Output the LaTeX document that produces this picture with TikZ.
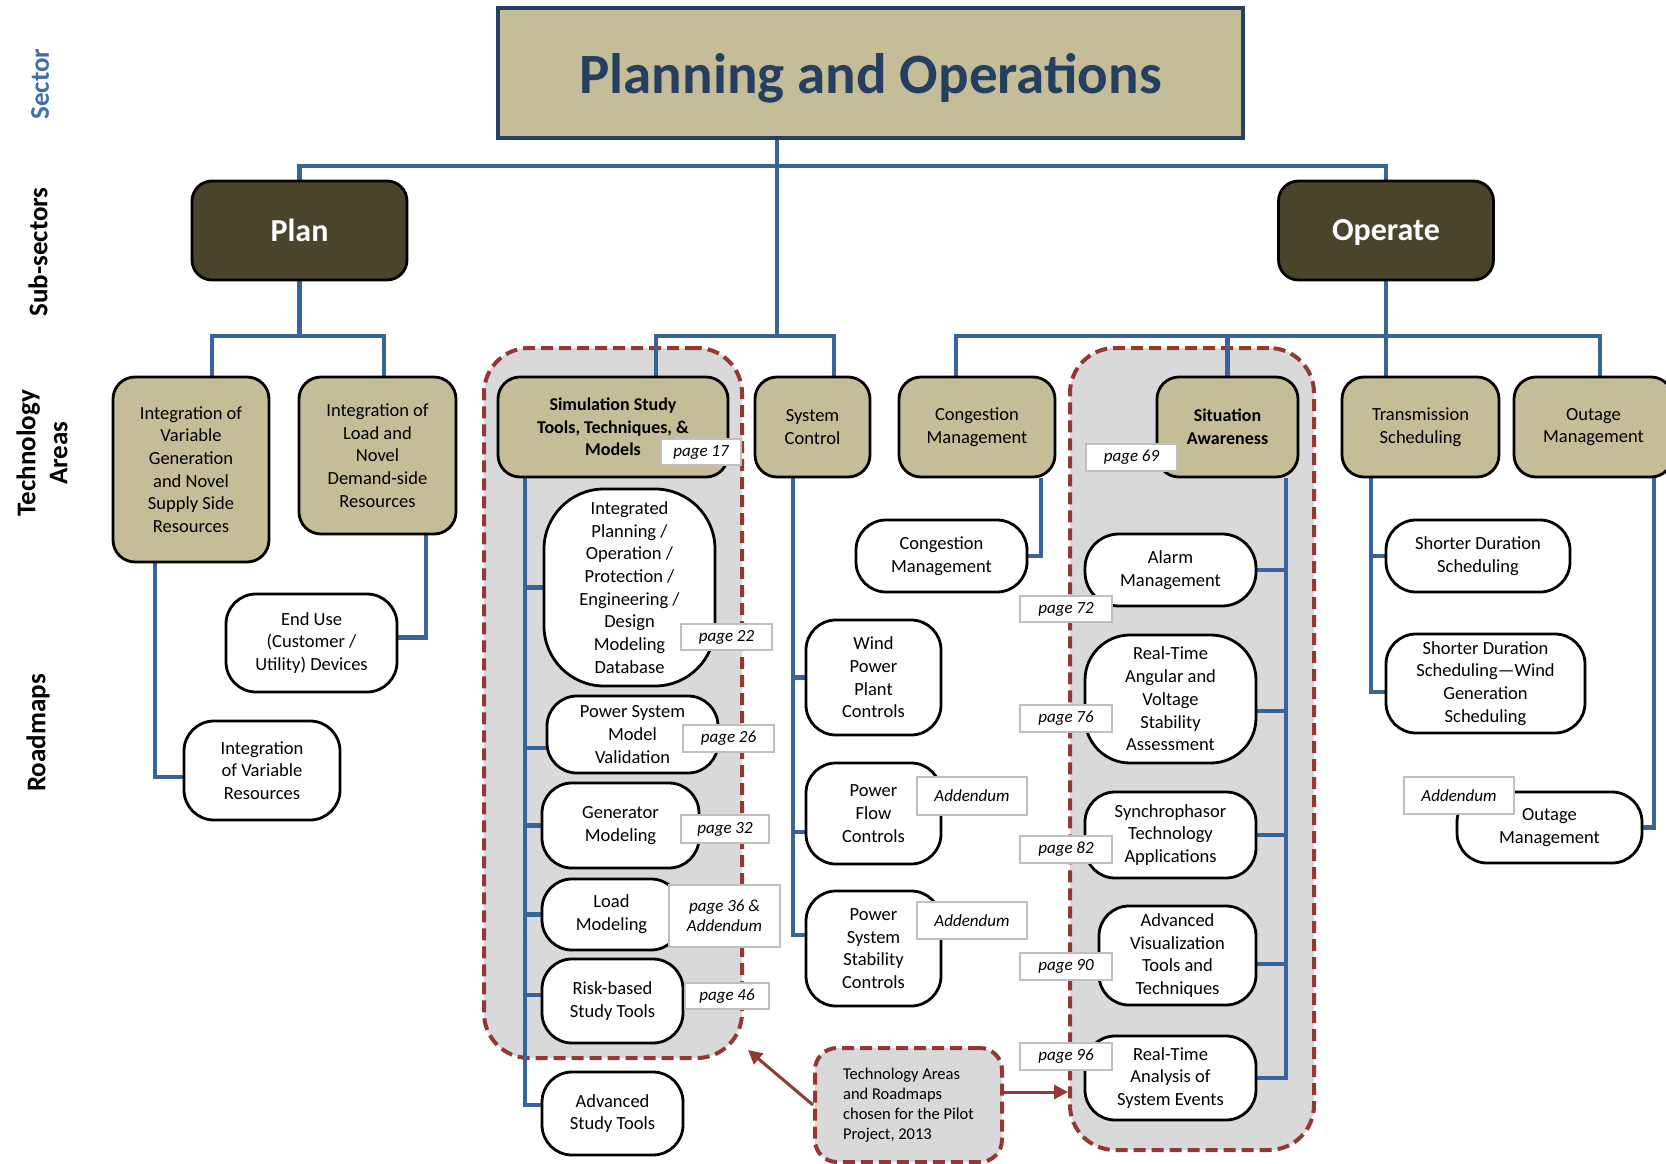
\documentclass[tikz,border=0pt]{standalone}
\usepackage{fontspec}
\setmainfont{Carlito}
\usetikzlibrary{arrows.meta}
\definecolor{tan}{HTML}{C4BD97}
\definecolor{olive}{HTML}{4A452A}
\definecolor{lineblue}{HTML}{386499}
\definecolor{navy}{HTML}{243F60}
\definecolor{sectorblue}{HTML}{3F6EAA}
\definecolor{zonered}{HTML}{953735}
\definecolor{zonegray}{HTML}{D9D9D9}
\definecolor{pgborder}{HTML}{BFBFBF}
\pgfdeclarelayer{zones}
\pgfdeclarelayer{lines}
\pgfsetlayers{zones,lines,main}
\tikzset{
  tabox/.style={draw=black, line width=2.8pt, fill=tan, rounded corners=22pt, align=center, inner sep=0pt, font=\fontsize{18.5}{22.7}\selectfont},
  rmbox/.style={draw=black, line width=2.8pt, fill=white, rounded corners=30pt, align=center, inner sep=0pt, font=\fontsize{18.5}{22.7}\selectfont},
  subbox/.style={draw=black, line width=2.8pt, fill=olive, rounded corners=20pt, inner sep=0pt, text depth=0pt, text=white, font=\bfseries\fontsize{32}{36}\selectfont},
  pglabel/.style={draw=pgborder, line width=1.5pt, fill=white, inner sep=0pt, align=center, font=\itshape\fontsize{17}{20.5}\selectfont},
  conn/.style={draw=lineblue, line width=4.8pt},
  zone/.style={draw=zonered, fill=zonegray, line width=4pt, dash pattern=on 12pt off 6pt, rounded corners=45pt},
  sidelabel/.style={rotate=90, align=center, font=\bfseries\fontsize{27}{32}\selectfont},
  arr/.style={draw=zonered, line width=3pt, -{Triangle[length=14pt,width=14pt]}},
}
\begin{document}
\begin{tikzpicture}[x=1pt,y=-1pt]
\useasboundingbox (0,0) rectangle (1666,1164);

% side labels
\node[sidelabel, text=sectorblue] (lblSector) at (40,84) {Sector};
\node[sidelabel] (lblSub) at (38,252) {Sub-sectors};
\node[sidelabel] (lblTech) at (42,453) {Technology\\Areas};
\node[sidelabel] (lblRoad) at (38,733) {Roadmaps};

% highlighted zones
\begin{pgfonlayer}{zones}
\node[zone, minimum width=258pt, minimum height=710pt] (zoneL) at (613,703) {};
\node[zone, minimum width=244pt, minimum height=802pt] (zoneR) at (1192,749) {};
\end{pgfonlayer}
\node[zone, rounded corners=22pt, minimum width=187pt, minimum height=114pt, align=left, inner sep=0pt, font=\fontsize{16.5}{20}\selectfont] (legend) at (908.5,1105) {Technology Areas\\and Roadmaps\\chosen for the Pilot\\Project, 2013};

% sector
\node[draw=navy, line width=4pt, fill=tan, minimum width=745pt, minimum height=129pt, inner sep=0pt, text depth=0pt, text=navy, font=\bfseries\fontsize{57}{64}\selectfont] (title) at (870.5,73) {Planning and Operations};

% sub-sectors
\node[subbox, minimum width=215pt, minimum height=99pt] (plan) at (299.5,230.5) {Plan};
\node[subbox, minimum width=215pt, minimum height=99pt] (operate) at (1386,230.5) {Operate};

% technology areas
\node[tabox, minimum width=156pt, minimum height=185pt] (T1) at (191,469.5) {Integration of\\Variable\\Generation\\and Novel\\Supply Side\\Resources};
\node[tabox, minimum width=157pt, minimum height=157pt] (T2) at (377.5,455.5) {Integration of\\Load and\\Novel\\Demand-side\\Resources};
\node[tabox, minimum width=230pt, minimum height=100pt, font=\bfseries\fontsize{18}{22.7}\selectfont] (T3) at (613,427) {Simulation Study\\Tools, Techniques, \&\\Models};
\node[tabox, minimum width=115pt, minimum height=100pt] (T4) at (812.5,427) {System\\Control};
\node[tabox, minimum width=156pt, minimum height=100pt] (T5) at (977,427) {Congestion\\Management};
\node[tabox, minimum width=141pt, minimum height=100pt, font=\bfseries\fontsize{18}{22.7}\selectfont] (T6) at (1227.5,427) {Situation\\Awareness};
\node[tabox, minimum width=157pt, minimum height=100pt] (T7) at (1420.5,427) {Transmission\\Scheduling};
\node[tabox, minimum width=159pt, minimum height=100pt] (T8) at (1593.5,427) {Outage\\Management};

% roadmaps
\node[rmbox, minimum width=156pt, minimum height=99pt] (R1) at (262,770.5) {Integration\\of Variable\\Resources};
\node[rmbox, minimum width=171pt, minimum height=98pt] (R2) at (311.5,643) {End Use\\(Customer /\\Utility) Devices};

\node[rmbox, rounded corners=60pt, minimum width=171pt, minimum height=197pt] (S1) at (629.5,587.5) {Integrated\\Planning /\\Operation /\\Protection /\\Engineering /\\Design\\Modeling\\Database};
\node[rmbox, minimum width=171pt, minimum height=77pt] (S2) at (632.5,734.5) {Power System\\Model\\Validation};
\node[rmbox, minimum width=157pt, minimum height=85pt] (S3) at (620.5,825.5) {Generator\\Modeling};
\node[rmbox, minimum width=139pt, minimum height=71pt] (S4) at (611.5,914.5) {Load\\Modeling};
\node[rmbox, minimum width=141pt, minimum height=84pt] (S5) at (612.5,1001) {Risk-based\\Study Tools};
\node[rmbox, minimum width=141pt, minimum height=83pt] (S6) at (612.5,1113.5) {Advanced\\Study Tools};

\node[rmbox, minimum width=135pt, minimum height=115pt] (W) at (873.5,677.5) {Wind\\Power\\Plant\\Controls};
\node[rmbox, minimum width=135pt, minimum height=101pt] (PF) at (873.5,813.5) {Power\\Flow\\Controls};
\node[rmbox, minimum width=135pt, minimum height=115pt] (PSS) at (873.5,948.5) {Power\\System\\Stability\\Controls};
\node[rmbox, minimum width=171pt, minimum height=72pt] (CM) at (941.5,556) {Congestion\\Management};

\node[rmbox, rounded corners=34pt, minimum width=171pt, minimum height=72pt] (A) at (1170.5,570) {Alarm\\Management};
\node[rmbox, rounded corners=45pt, minimum width=171pt, minimum height=128pt] (RT) at (1170.5,699) {Real-Time\\Angular and\\Voltage\\Stability\\Assessment};
\node[rmbox, minimum width=171pt, minimum height=86pt] (SY) at (1170.5,835) {Synchrophasor\\Technology\\Applications};
\node[rmbox, minimum width=157pt, minimum height=99pt] (AV) at (1177.5,955.5) {Advanced\\Visualization\\Tools and\\Techniques};
\node[rmbox, minimum width=171pt, minimum height=84pt] (RA) at (1170.5,1078) {Real-Time\\Analysis of\\System Events};

\node[rmbox, minimum width=184pt, minimum height=72pt] (SD1) at (1478,556) {Shorter Duration\\Scheduling};
\node[rmbox, minimum width=199pt, minimum height=99pt] (SD2) at (1485.5,683.5) {Shorter Duration\\Scheduling—Wind\\Generation\\Scheduling};
\node[rmbox, minimum width=185pt, minimum height=71pt] (OM) at (1549.5,827.5) {Outage\\Management};

% connectors
\begin{pgfonlayer}{lines}
\coordinate (busTop) at (777,166);
\coordinate (busMid) at (777,336);
\draw[conn] (title.south -| busTop) -- (busMid);
\draw[conn] (plan.north) |- (busTop) -| (operate.north);
\draw[conn] ([xshift=43pt]T3.north) |- (busMid) -| ([xshift=21.5pt]T4.north);
\draw[conn] (plan.south) -- (plan.south |- busMid) coordinate (pj);
\draw[conn] ([xshift=21pt]T1.north) |- (pj) -| ([xshift=6.5pt]T2.north);
\draw[conn] (operate.south) -- (operate.south |- busMid) coordinate (oj);
\draw[conn] ([xshift=-21pt]T5.north) |- (oj) -| ([xshift=6.5pt]T8.north);
\draw[conn] (T6.north) -- (T6.north |- oj);
\draw[conn] (oj) -- (oj |- T7.north);

\draw[conn] ([xshift=-36pt]T1.south) |- (R1.west |- 0,777);
\draw[conn] ([xshift=48.5pt]T2.south) |- (R2.east |- 0,637.5);

\draw[conn] ([xshift=-88pt]T3.south) coordinate (sv) |- (S6.west |- 0,1105);
\draw[conn] (sv |- S1.west) -- (S1.west);
\draw[conn] (sv |- 0,748) -- (S2.west |- 0,748);
\draw[conn] (sv |- S3.west) -- (S3.west);
\draw[conn] (sv |- S4.west) -- (S4.west);
\draw[conn] (sv |- 0,995) -- (S5.west |- 0,995);

\draw[conn] ([xshift=-19.5pt]T4.south) coordinate (cv) |- (PSS.west |- 0,935);
\draw[conn] (cv |- W.west) -- (W.west);
\draw[conn] (cv |- 0,832) -- (PF.west |- 0,832);

\draw[conn] ([xshift=64pt]T5.south) |- (CM.east);

\draw[conn] ([xshift=58.5pt]T6.south) coordinate (av) |- (RA.east);
\draw[conn] (av |- A.east) -- (A.east);
\draw[conn] (av |- 0,711) -- (RT.east |- 0,711);
\draw[conn] (av |- SY.east) -- (SY.east);
\draw[conn] (av |- 0,964) -- (AV.east |- 0,964);

\draw[conn] ([xshift=-49.5pt]T7.south) coordinate (tv) |- (SD2.west |- 0,692);
\draw[conn] (tv |- SD1.west) -- (SD1.west);

\draw[conn] ([xshift=60.5pt]T8.south) |- (OM.east);
\end{pgfonlayer}

% page labels
\node[pglabel, minimum width=80pt, minimum height=26pt] (pg17) at (701,452) {page 17};
\node[pglabel, minimum width=91pt, minimum height=26pt] (pg22) at (726.5,637) {page 22};
\node[pglabel, minimum width=91pt, minimum height=27pt] (pg26) at (728.5,738.5) {page 26};
\node[pglabel, minimum width=88pt, minimum height=28pt] (pg32) at (725,829) {page 32};
\node[pglabel, minimum width=111pt, minimum height=62pt] (pg36) at (724.5,916) {page 36 \&\\Addendum};
\node[pglabel, minimum width=84pt, minimum height=26pt] (pg46) at (727,996) {page 46};
\node[pglabel, minimum width=110pt, minimum height=38pt] (add1) at (972,796) {Addendum};
\node[pglabel, minimum width=110pt, minimum height=37pt] (add2) at (972,920.5) {Addendum};
\node[pglabel, minimum width=91pt, minimum height=27pt] (pg69) at (1131.5,457.5) {page 69};
\node[pglabel, minimum width=92pt, minimum height=26pt] (pg72) at (1066,609) {page 72};
\node[pglabel, minimum width=92pt, minimum height=27pt] (pg76) at (1066,718.5) {page 76};
\node[pglabel, minimum width=92pt, minimum height=27pt] (pg82) at (1066,849.5) {page 82};
\node[pglabel, minimum width=92pt, minimum height=27pt] (pg90) at (1066,966.5) {page 90};
\node[pglabel, minimum width=92pt, minimum height=27pt] (pg96) at (1066,1056.5) {page 96};
\node[pglabel, minimum width=110pt, minimum height=37pt] (add3) at (1459,795.5) {Addendum};

% legend arrows
\coordinate (tipL) at (748,1050);
\draw[arr] (legend.west) -- (tipL);
\draw[arr] (legend.east |- 0,1092) -- (zoneR.west |- 0,1092);
\end{tikzpicture}
\end{document}
